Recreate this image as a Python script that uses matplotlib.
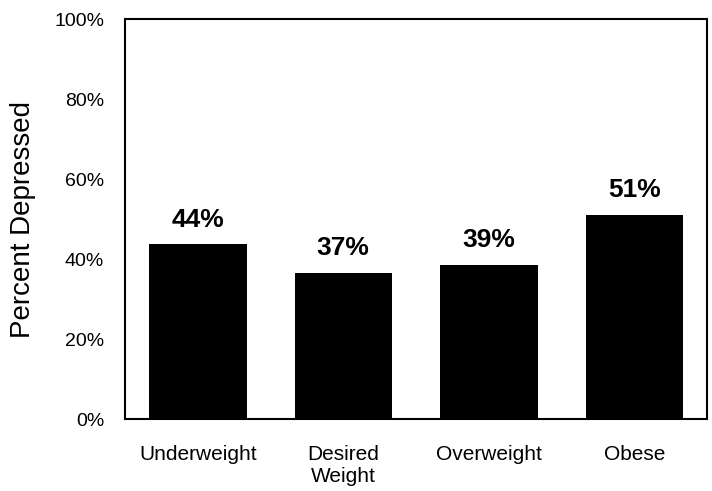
import matplotlib.pyplot as plt
from matplotlib.ticker import FuncFormatter

plt.rcParams['font.family'] = ['Liberation Sans', 'DejaVu Sans']

categories = ['Underweight', 'Desired\nWeight', 'Overweight', 'Obese']
values = [43.7, 36.6, 38.6, 51.1]
labels = ['44%', '37%', '39%', '51%']

fig = plt.figure(figsize=(7.12, 4.91), dpi=100)
ax = fig.add_axes([0.1756, 0.1466, 0.8174, 0.8147])

x = range(len(categories))
bars = ax.bar(x, values, width=0.67, color='black')
for b, lab in zip(bars, labels):
    ax.annotate(lab, (b.get_x() + b.get_width() / 2, b.get_height()),
                xytext=(0, 9), textcoords='offset points',
                ha='center', va='bottom', fontsize=19, fontweight='bold')

ax.set_xlim(-0.5, len(categories) - 0.5)
ax.set_ylim(0, 100)
ax.set_yticks(range(0, 101, 20))
ax.yaxis.set_major_formatter(FuncFormatter(lambda v, p: f'{v:.0f}%'))
ax.set_xticks(list(x))
ax.set_xticklabels(categories, fontsize=15, linespacing=1.15)
ax.tick_params(axis='both', length=0)
ax.tick_params(axis='y', labelsize=14, pad=15)
ax.tick_params(axis='x', pad=19)
ax.set_ylabel('Percent Depressed', fontsize=20, labelpad=13)
for s in ax.spines.values():
    s.set_linewidth(1.5)

fig.savefig('out.png', dpi=100)
